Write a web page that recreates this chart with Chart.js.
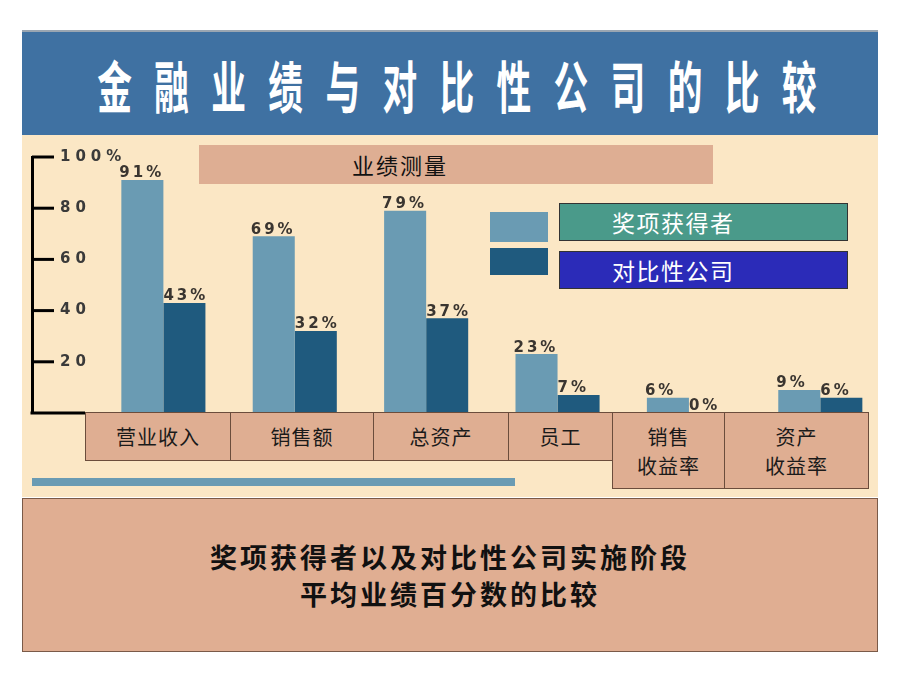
<!DOCTYPE html>
<html>
<head>
<meta charset="utf-8">
<script src="https://cdn.jsdelivr.net/npm/chart.js@4.4.0/dist/chart.umd.min.js"></script>
<style>
    body { margin: 0; background: #fff; font-family: "Noto Sans CJK SC", sans-serif; }
    #page { position: relative; width: 920px; height: 690px; overflow: hidden; }
    .abs { position: absolute; box-sizing: border-box; }
    #banner { left: 22px; top: 30px; width: 856px; height: 105px; background: #3f71a2; border-top: 2px solid #9aa6b2;
        display: flex; align-items: center; justify-content: center; }
    #banner span { display: inline-block; color: #fff; font-weight: bold; font-size: 56px; letter-spacing: 36px;
        transform: scaleX(0.62); white-space: nowrap; margin-left: 36px; }
    #panel { left: 22px; top: 135px; width: 856px; height: 362px; background: #fbe7c5; }
    #measure { left: 199px; top: 145px; width: 514px; height: 39px; background: #deae93; font-size: 22px;
        letter-spacing: 2px; line-height: 39px; padding-left: 153px; color: #111; }
    .swatch { left: 490px; width: 58px; }
    .legend-box { left: 559px; width: 289px; height: 38px; border: 1px solid #333; color: #fff; font-size: 23px;
        letter-spacing: 1.5px; line-height: 36px; padding-left: 52px; }
    .cat { background: #dfae92; border: 1px solid #6b4d3c; font-size: 20px; letter-spacing: 1px; color: #1a1a1a;
        display: flex; align-items: center; justify-content: center; text-align: center; white-space: pre-line;
        line-height: 29px; }
    #rule { left: 32px; top: 478px; width: 483px; height: 8px; background: #6a9bb3; }
    #summary { left: 22px; top: 498px; width: 856px; height: 154px; background: #e0ae92; border: 1px solid #7a5a48;
        display: flex; align-items: center; justify-content: center; text-align: center; font-weight: bold;
        font-size: 27px; letter-spacing: 3px; line-height: 37px; color: #111; }
    canvas { position: absolute; left: 0; top: 135px; }
</style>
</head>
<body>
<div id="page">
    <div id="banner" class="abs"><span id="title"></span></div>
    <div id="panel" class="abs"></div>
    <canvas id="chart" width="920" height="360"></canvas>
    <div id="measure" class="abs"></div>
    <div id="rule" class="abs"></div>
    <div id="summary" class="abs"></div>
</div>
<script>
const titleText = '金融业绩与对比性公司的比较';
const measureText = '业绩测量';
const summaryText = '奖项获得者以及对比性公司实施阶段\n平均业绩百分数的比较';

const categories = ['营业收入', '销售额', '总资产', '员工', '销售\n收益率', '资产\n收益率'];
const seriesNames = ['奖项获得者', '对比性公司'];
const winners = [91, 69, 79, 23, 6, 9];
const peers = [43, 32, 37, 7, 0, 6];
const yTicks = [20, 40, 60, 80, 100];

const colors = ['#6a9bb3', '#1f5a7e'];
const legendColors = ['#4a9a8a', '#2b2bb8'];

const page = document.getElementById('page');
document.getElementById('title').textContent = titleText;
document.getElementById('measure').textContent = measureText;
document.getElementById('summary').style.whiteSpace = 'pre-line';
document.getElementById('summary').textContent = summaryText;

// legend: swatch + coloured text box
[[212, 242, 203], [248, 275, 251]].forEach((pos, i) => {
    const sw = document.createElement('div');
    sw.className = 'abs swatch';
    sw.style.top = pos[0] + 'px';
    sw.style.height = (pos[1] - pos[0]) + 'px';
    sw.style.background = colors[i];
    page.appendChild(sw);

    const box = document.createElement('div');
    box.className = 'abs legend-box';
    box.style.top = pos[2] + 'px';
    box.style.background = legendColors[i];
    box.textContent = seriesNames[i];
    page.appendChild(box);
});

// category label boxes under the bars
const boxEdges = [85, 230, 373, 508, 612, 724, 868];
categories.forEach((name, i) => {
    const box = document.createElement('div');
    box.className = 'abs cat';
    box.style.left = boxEdges[i] + 'px';
    box.style.width = (boxEdges[i + 1] - boxEdges[i] + 1) + 'px';
    box.style.top = '412px';
    box.style.height = (name.includes('\n') ? 77 : 49) + 'px';
    box.textContent = name;
    page.appendChild(box);
});

const tickMarks = {
    id: 'tickMarks',
    beforeDraw(chart) {
        // wide, spaced-out axis numbers
        chart.ctx.letterSpacing = '5px';
    },
    beforeDatasetsDraw(chart) {
        chart.ctx.letterSpacing = '0px';
    },
    afterDatasetsDraw(chart) {
        const { ctx, chartArea, scales } = chart;
        ctx.save();
        ctx.strokeStyle = '#000';
        ctx.lineWidth = 3;
        yTicks.forEach(v => {
            const y = scales.y.getPixelForValue(v);
            ctx.beginPath();
            ctx.moveTo(chartArea.left, y);
            ctx.lineTo(chartArea.left + 22, y);
            ctx.stroke();
        });
        // short base line up to the first label box
        const y0 = scales.y.getPixelForValue(0);
        ctx.beginPath();
        ctx.moveTo(chartArea.left - 1.5, y0);
        ctx.lineTo(boxEdges[0], y0);
        ctx.stroke();

        // value labels above each bar
        ctx.font = 'bold 15px "DejaVu Sans"';
        ctx.letterSpacing = '3px';
        ctx.fillStyle = '#3a3530';
        ctx.textAlign = 'left';
        ctx.textBaseline = 'bottom';
        chart.data.datasets.forEach((ds, di) => {
            chart.getDatasetMeta(di).data.forEach((bar, i) => {
                const x = bar.x - bar.width / 2 - (di === 0 ? 2 : 0);
                ctx.fillText(ds.data[i].y + '%', x, bar.y + 1);
            });
        });
        ctx.restore();
    }
};

const ctx = document.getElementById('chart').getContext('2d');
new Chart(ctx, {
    type: 'bar',
    data: {
        datasets: [winners, peers].map((vals, di) => ({
            label: seriesNames[di],
            data: vals.map((v, i) => ({ x: i, y: v })),
            backgroundColor: colors[di],
            borderWidth: 0,
            categoryPercentage: 0.64,
            barPercentage: 1
        }))
    },
    options: {
        responsive: false,
        animation: false,
        layout: { padding: { left: 32, right: 34, top: 22, bottom: 82 } },
        plugins: { legend: { display: false }, tooltip: { enabled: false } },
        scales: {
            x: {
                type: 'linear',
                min: -1,
                max: 5.5,
                offset: false,
                afterBuildTicks: s => { s.ticks = categories.map((c, i) => ({ value: i })); },
                ticks: { display: false },
                grid: { drawOnChartArea: false, drawTicks: false },
                border: { display: false }
            },
            y: {
                min: 0,
                max: 100,
                afterFit: s => { s.width = 0; s.paddingTop = 0; s.paddingBottom = 0; },
                ticks: {
                    stepSize: 20,
                    mirror: true,
                    padding: 28,
                    color: '#3a3a3a',
                    font: { family: 'DejaVu Sans', size: 15, weight: 'bold' },
                    callback: v => v === 100 ? '100%' : (v === 0 ? '' : v)
                },
                grid: { drawOnChartArea: false, drawTicks: false },
                border: { display: true, color: '#000', width: 3 }
            }
        }
    },
    plugins: [tickMarks]
});
</script>
</body>
</html>
